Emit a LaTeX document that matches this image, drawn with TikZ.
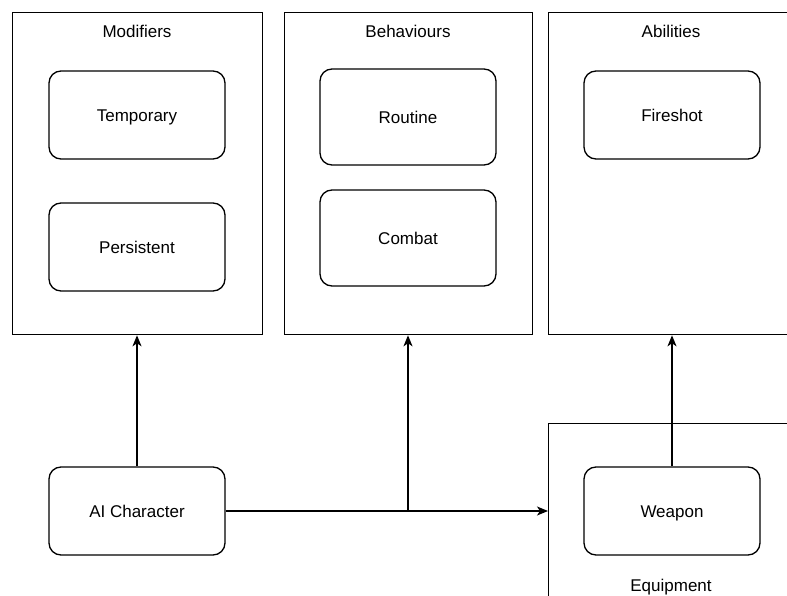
\documentclass[tikz,border=0pt]{standalone}
\usepackage{fontspec}
\setmainfont{Liberation Sans}
\usetikzlibrary{arrows.meta,positioning}
\begin{document}
\begin{tikzpicture}[x=1pt,y=-1pt,
  line width=1.3pt,
  font=\fontsize{17}{20}\selectfont,
  every node/.style={text height=13pt, text depth=0pt},
  group/.style={draw, rectangle, anchor=north west, inner sep=0pt},
  item/.style={draw, rectangle, rounded corners=12pt, minimum width=176pt, minimum height=88pt, inner sep=0pt},
  title/.style={inner sep=0pt},
  link/.style={-{Stealth[length=11pt,width=9pt,inset=3pt]}}
]
\useasboundingbox (0,0) rectangle (787,596);
\clip (0,0) rectangle (787,596);
\fill[white] (0,0) rectangle (787,596);

% containers
\node[group, minimum width=250pt, minimum height=322pt] (mod) at (12,12) {};
\node[group, minimum width=248pt, minimum height=322pt] (beh) at (284,12) {};
\node[group, minimum width=260pt, minimum height=322pt] (abl) at (548,12) {};
\node[group, minimum width=260pt, minimum height=322pt] (eqp) at (548,423) {};

% container titles
\node[title] (modt) at (137,31.5) {Modifiers};
\node[title] (beht) at (408,31.5) {Behaviours};
\node[title] (ablt) at (671,31.5) {Abilities};
\node[title] (eqpt) at (671,584.5) {Equipment};

% items
\node[item] (temp) at (137,115) {Temporary};
\node[item] (pers) at (137,247) {Persistent};
\node[item, minimum height=96pt] (rout) at (408,117) {Routine};
\node[item, minimum height=96pt] (comb) at (408,238) {Combat};
\node[item] (fire) at (672,115) {Fireshot};
\node[item] (weap) at (672,511) {Weapon};
\node[item] (ai) at (137,511) {AI Character};

% connectors
\coordinate (split) at (408,511);
\draw[link] (ai.north) -- (mod.south -| ai.north);
\draw[link] (ai.east) -- (eqp.west |- ai.east);
\draw[link] (split) -- (beh.south -| split);
\draw[link] (weap.north) -- (abl.south -| weap.north);
\end{tikzpicture}
\end{document}
